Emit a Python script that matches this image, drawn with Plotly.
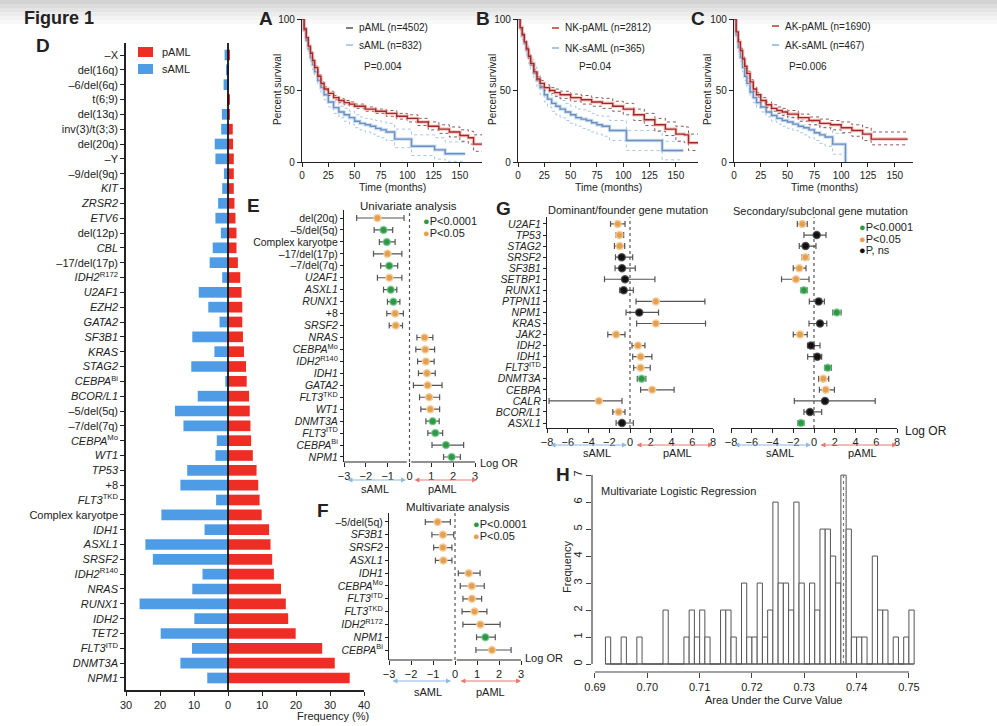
import plotly.graph_objects as go

W, H = 997, 726
FONT = "Liberation Sans, Arial, sans-serif"
INK = "#222222"
RED = "#EE2D24"
BLUE = "#4E9BE6"
C_G = "#2C9A45"
C_O = "#E3A052"
C_K = "#111111"
SIGC = {"g": C_G, "o": C_O, "k": C_K}
SIGL = {"g": "rgba(120,200,140,0.7)", "o": "rgba(245,205,150,0.9)", "k": "rgba(60,60,60,0.8)"}

# ---------------- Panel D data ----------------
d_labels = ["–X", "del(16q)", "–6/del(6q)", "t(6;9)", "del(13q)", "inv(3)/t(3;3)", "del(20q)", "–Y",
            "–9/del(9q)", "<i>KIT</i>", "<i>ZRSR2</i>", "<i>ETV6</i>", "del(12p)", "<i>CBL</i>",
            "–17/del(17p)", "<i>IDH2</i><sup>R172</sup>", "<i>U2AF1</i>", "<i>EZH2</i>", "<i>GATA2</i>",
            "<i>SF3B1</i>", "<i>KRAS</i>", "<i>STAG2</i>", "<i>CEBPA</i><sup>Bi</sup>", "<i>BCOR/L1</i>",
            "–5/del(5q)", "–7/del(7q)", "<i>CEBPA</i><sup>Mo</sup>", "<i>WT1</i>", "<i>TP53</i>", "+8",
            "<i>FLT3</i><sup>TKD</sup>", "Complex karyotpe", "<i>IDH1</i>", "<i>ASXL1</i>", "<i>SRSF2</i>",
            "<i>IDH2</i><sup>R140</sup>", "<i>NRAS</i>", "<i>RUNX1</i>", "<i>IDH2</i>", "<i>TET2</i>",
            "<i>FLT3</i><sup>ITD</sup>", "<i>DNMT3A</i>", "<i>NPM1</i>"]
d_pAML = [0.3, 0.2, 0.2, 0.5, 0.5, 1.4, 1.5, 1.7, 1.7, 1.7, 1.9, 2.2, 2.5, 2.5, 2.9, 3.6, 4.0, 4.2, 4.2,
          4.4, 4.7, 5.3, 5.5, 6.2, 6.4, 6.6, 6.8, 7.3, 8.4, 8.9, 9.3, 9.9, 12.1, 12.5, 13.0, 13.5, 15.6,
          17.0, 17.7, 19.9, 27.7, 31.4, 35.8]
d_sAML = [1.0, 0.3, 1.3, 0.1, 1.8, 2.0, 3.9, 3.7, 1.2, 1.7, 2.9, 3.7, 2.1, 4.5, 5.4, 1.7, 8.6, 5.8, 2.5,
          10.5, 4.0, 10.8, 0.8, 8.9, 15.6, 13.1, 3.3, 3.7, 12.0, 14.0, 3.5, 19.6, 6.9, 24.3, 22.1, 7.5,
          10.5, 26.0, 9.9, 19.8, 10.6, 14.0, 6.1]
d_xticks = [-30, -20, -10, 0, 10, 20, 30, 40]
d_xticktext = ["30", "20", "10", "0", "10", "20", "30", "40"]

# ---------------- Kaplan-Meier data ----------------
km_ticks = [0, 25, 50, 75, 100, 125, 150]
# Panel A
a_p_t = [0, 2, 4, 6, 8, 10, 12, 15, 18, 21, 25, 30, 35, 40, 45, 50, 60, 70, 80, 90, 100, 110, 120, 130, 140, 150, 158, 163, 171]
a_p_s = [100, 93, 87, 81, 76, 71, 66, 60, 55, 51, 48, 45, 43, 41.5, 40.5, 39, 37, 35.5, 34, 32, 30.5, 28, 25, 23, 21, 18.5, 17, 12.5, 12.5]
a_p_lo = [100, 92, 86, 80, 75, 70, 65, 59, 54, 50, 46.5, 43.5, 41.5, 40, 39, 37.5, 35.5, 34, 32, 30, 28, 25.5, 22.5, 20, 17.5, 14.5, 12.5, 7.5, 7.5]
a_p_hi = [100, 94, 88, 82, 77, 72, 67, 61, 56, 52.5, 49.5, 46.5, 44.5, 43, 42, 40.5, 38.5, 37, 36, 34, 33, 30.5, 28, 26, 24.5, 22.5, 21.5, 19, 19]
a_s_t = [0, 2, 4, 6, 8, 10, 12, 15, 18, 21, 25, 30, 35, 40, 45, 50, 55, 60, 65, 70, 75, 80, 88, 104, 126, 136, 155]
a_s_s = [100, 92, 85, 79, 73, 68, 63, 57, 52, 47, 42, 38, 35, 33, 31, 28.5, 27, 26, 25, 23.5, 22.5, 21, 16, 11, 8.5, 5.8, 5.8]
a_s_lo = [100, 90, 82, 76, 70, 64.5, 59.5, 53.5, 48.5, 43.5, 38.5, 34, 31, 28.5, 26.5, 24, 22.5, 21, 19.5, 18, 17, 15, 10, 4.5, 2, 0.5, 0.5]
a_s_hi = [100, 94, 88, 82, 76, 71.5, 66.5, 60.5, 55.5, 51, 46, 42, 39, 37.5, 35.5, 33, 31.5, 30.5, 30, 29, 28, 27, 23, 19, 17, 14, 14]
# Panel B
b_p_t = [0, 2, 4, 6, 8, 10, 12, 15, 18, 21, 25, 30, 35, 40, 50, 60, 70, 80, 90, 100, 110, 120, 130, 140, 150, 158, 162, 171]
b_p_s = [100, 94, 89, 84, 79, 74, 69, 63, 58, 55, 52, 50, 48.5, 47, 45, 43.5, 42, 41, 39, 37, 33, 29.5, 26, 23, 19.5, 19, 13.5, 13.5]
b_p_lo = [100, 93, 88, 83, 78, 72.5, 67.5, 61.5, 56.5, 53, 50, 48, 46, 44.5, 42.5, 40.5, 39, 37.5, 35.5, 33, 29, 25.5, 21.5, 18.5, 14.5, 13.5, 8, 8]
b_p_hi = [100, 95, 90, 85, 80, 75.5, 70.5, 64.5, 59.5, 57, 54, 52, 51, 49.5, 47.5, 46.5, 45, 44.5, 42.5, 41, 37, 34, 30.5, 28, 25, 24.5, 19.5, 19.5]
b_s_t = [0, 2, 4, 6, 8, 10, 12, 15, 18, 21, 25, 28, 32, 36, 40, 45, 50, 55, 60, 65, 70, 75, 80, 87, 103, 137, 157]
b_s_s = [100, 94, 88, 83, 78, 73, 68, 62, 57, 52, 47, 44, 41, 39, 37, 35, 33, 31, 30, 29, 27.5, 26, 25, 22, 15, 8, 8]
b_s_lo = [100, 92, 85.5, 80, 74.5, 69, 64, 57.5, 52, 47, 42, 38.5, 35.5, 33, 31, 29, 27, 25, 23.5, 22.5, 21, 19.5, 18, 15, 8, 1.5, 1.5]
b_s_hi = [100, 96, 90.5, 86, 81.5, 77, 72, 66.5, 62, 57, 52, 49.5, 46.5, 45, 43, 41, 39, 37, 36.5, 35.5, 34, 32.5, 32, 29, 22, 14.5, 14.5]
# Panel C
c_p_t = [0, 2, 4, 6, 8, 10, 12, 15, 18, 21, 25, 30, 35, 40, 45, 50, 60, 70, 80, 90, 100, 110, 120, 128, 162]
c_p_s = [100, 91, 84, 78, 72, 67, 62, 56, 51, 47, 43, 40, 37.5, 36, 35, 33.5, 31, 29, 27, 26, 24, 22, 19.5, 16, 16]
c_p_lo = [100, 90, 82.5, 76.5, 70.5, 65.5, 60.5, 54.5, 49.5, 45.5, 41.5, 38, 35.5, 34, 32.5, 31, 28.5, 26, 24, 22.5, 20.5, 18, 15, 12, 12]
c_p_hi = [100, 92, 85.5, 79.5, 73.5, 68.5, 63.5, 57.5, 52.5, 48.5, 45, 42, 40, 38.5, 37.5, 36, 33.5, 31.5, 30, 29, 28, 26, 24, 21, 21]
c_s_t = [0, 2, 4, 6, 8, 10, 12, 15, 18, 21, 25, 30, 35, 40, 45, 50, 55, 60, 65, 70, 75, 80, 85, 92, 104]
c_s_s = [100, 89, 80, 73, 66, 60, 55, 49, 45, 41.5, 38.5, 35, 32.5, 30.5, 29, 28, 26.5, 25, 24, 22.5, 20.5, 19, 17.5, 12.5, 0]
c_s_lo = [100, 87, 77, 70, 63, 57, 51.5, 45.5, 41.5, 38, 35, 31.5, 28.5, 26.5, 25, 23.5, 22, 20.5, 19, 17, 15, 13, 11, 5.5, 5.5]
c_s_hi = [100, 91, 83, 76, 69, 63, 58.5, 52.5, 48.5, 45, 42, 38.5, 36.5, 34.5, 33, 32, 31, 29.5, 29, 28, 26, 25, 24, 20, 20]

# ---------------- Panel E data ----------------
e_labels = ["del(20q)", "–5/del(5q)", "Complex karyotpe", "–17/del(17p)", "–7/del(7q)", "<i>U2AF1</i>",
            "<i>ASXL1</i>", "<i>RUNX1</i>", "+8", "<i>SRSF2</i>", "<i>NRAS</i>", "<i>CEBPA</i><sup>Mo</sup>",
            "<i>IDH2</i><sup>R140</sup>", "<i>IDH1</i>", "<i>GATA2</i>", "<i>FLT3</i><sup>TKD</sup>", "<i>WT1</i>",
            "<i>DNMT3A</i>", "<i>FLT3</i><sup>ITD</sup>", "<i>CEBPA</i><sup>Bi</sup>", "<i>NPM1</i>"]
e_or = [-1.47, -1.19, -1.04, -1.01, -0.93, -0.92, -0.86, -0.74, -0.66, -0.63, 0.69, 0.72, 0.75, 0.80, 0.83, 0.90, 0.95, 1.06, 1.18, 1.67, 1.93]
e_lo = [-2.42, -1.62, -1.38, -1.65, -1.32, -1.47, -1.19, -1.01, -1.04, -0.93, 0.34, 0.29, 0.37, 0.41, 0.18, 0.46, 0.52, 0.75, 0.84, 1.03, 1.56]
e_hi = [-0.25, -0.77, -0.66, -0.35, -0.54, -0.35, -0.58, -0.44, -0.28, -0.32, 1.07, 1.15, 1.13, 1.18, 1.49, 1.38, 1.38, 1.36, 1.52, 2.48, 2.33]
e_sig = ["o", "g", "g", "o", "g", "o", "g", "g", "o", "o", "o", "o", "o", "o", "o", "o", "o", "g", "g", "g", "g"]

# ---------------- Panel F data ----------------
f_labels = ["–5/del(5q)", "<i>SF3B1</i>", "<i>SRSF2</i>", "<i>ASXL1</i>", "<i>IDH1</i>", "<i>CEBPA</i><sup>Mo</sup>",
            "<i>FLT3</i><sup>ITD</sup>", "<i>FLT3</i><sup>TKD</sup>", "<i>IDH2</i><sup>R172</sup>", "<i>NPM1</i>",
            "<i>CEBPA</i><sup>Bi</sup>"]
f_or = [-0.79, -0.55, -0.55, -0.53, 0.62, 0.76, 0.77, 0.89, 1.15, 1.38, 1.68]
f_lo = [-1.35, -1.05, -0.97, -0.89, 0.15, 0.24, 0.36, 0.32, 0.36, 0.98, 0.95]
f_hi = [-0.21, -0.06, -0.14, -0.14, 1.14, 1.33, 1.21, 1.45, 2.05, 1.83, 2.55]
f_sig = ["o", "o", "o", "o", "o", "o", "o", "o", "o", "g", "o"]
or_ticks3 = [-3, -2, -1, 0, 1, 2, 3]

# ---------------- Panel G data ----------------
g_labels = ["<i>U2AF1</i>", "<i>TP53</i>", "<i>STAG2</i>", "<i>SRSF2</i>", "<i>SF3B1</i>", "<i>SETBP1</i>",
            "<i>RUNX1</i>", "<i>PTPN11</i>", "<i>NPM1</i>", "<i>KRAS</i>", "<i>JAK2</i>", "<i>IDH2</i>",
            "<i>IDH1</i>", "<i>FLT3</i><sup>ITD</sup>", "<i>DNMT3A</i>", "<i>CEBPA</i>", "<i>CALR</i>",
            "<i>BCOR/L1</i>", "<i>ASXL1</i>"]
gd_or = [-1.18, -1.02, -0.99, -0.80, -0.77, -0.48, -0.61, 2.49, 0.89, 2.49, -1.34, 0.77, 1.02, 1.02, 1.12, 2.14, -3.0, -1.09, -0.77]
gd_lo = [-1.88, -1.34, -1.50, -1.40, -1.44, -2.46, -0.99, 0.58, -0.38, 0.64, -2.14, 0.19, 0.26, 0.35, 0.70, 1.02, -7.8, -1.66, -1.34]
gd_hi = [-0.48, -0.61, -0.51, 0.26, 0.51, 2.40, 0.32, 7.22, 2.75, 7.28, -0.48, 1.44, 2.11, 1.95, 1.53, 4.25, -0.77, -0.48, 0.32]
gd_sig = ["o", "o", "o", "k", "k", "k", "k", "o", "k", "o", "o", "o", "o", "o", "g", "o", "o", "o", "k"]
gs_or = [-1.13, 0.26, -0.81, -0.84, -1.42, -1.74, -0.97, 0.45, 2.19, 0.58, -1.35, -0.29, 0.32, 1.32, 0.90, 1.13, 1.06, -0.39, -1.26]
gs_lo = [-1.61, -0.97, -1.42, -1.16, -2.00, -3.13, -1.26, -0.45, 1.81, -0.48, -2.00, -0.61, -0.61, 1.03, 0.45, 0.52, -1.90, -0.97, -1.55]
gs_hi = [-0.65, 1.16, 0.19, -0.52, -0.77, -0.48, -0.65, 1.00, 2.61, 1.23, -0.65, 0.58, 0.74, 1.68, 1.42, 1.97, 5.90, 0.74, -0.97]
gs_sig = ["o", "k", "k", "o", "o", "o", "g", "k", "g", "k", "o", "k", "k", "g", "o", "o", "k", "k", "g"]
or_ticks8 = [-8, -6, -4, -2, 0, 2, 4, 6, 8]

# ---------------- Panel H data ----------------
h_bin_left = [0.692, 0.693, 0.694, 0.695, 0.696, 0.697, 0.698, 0.699, 0.700, 0.701, 0.702, 0.703, 0.704,
              0.705, 0.706, 0.707, 0.708, 0.709, 0.710, 0.711, 0.712, 0.713, 0.714, 0.715, 0.716, 0.717,
              0.718, 0.719, 0.720, 0.721, 0.722, 0.723, 0.724, 0.725, 0.726, 0.727, 0.728, 0.729, 0.730,
              0.731, 0.732, 0.733, 0.734, 0.735, 0.736, 0.737, 0.738, 0.739, 0.740, 0.741, 0.742, 0.743,
              0.744, 0.745, 0.746, 0.747, 0.748, 0.749, 0.750]
h_counts = [1, 0, 0, 1, 0, 0, 1, 0, 0, 0, 0, 2, 0,
            0, 0, 1, 2, 1, 2, 1, 0, 0, 2, 2, 1, 0,
            3, 1, 1, 3, 1, 2, 6, 3, 3, 2, 6, 3, 0,
            3, 2, 5, 5, 4, 3, 7, 5, 1, 1, 1, 0, 4,
            2, 2, 0, 1, 0, 1, 2]
h_binwidth = 0.001
h_observed = 0.7375
h_xticks = [0.69, 0.70, 0.71, 0.72, 0.73, 0.74, 0.75]
h_yticks = [0, 1, 2, 3, 4, 5, 6, 7]


# ---------------- helpers ----------------
def X(p):
    return p / W


def Y(p):
    return 1 - p / H


def xdom(a, b):
    return [a / W, b / W]


def ydom(top, bottom):
    return [1 - bottom / H, 1 - top / H]


def ax_style(**kw):
    base = dict(showline=True, linecolor=INK, linewidth=1.2, ticks="outside", ticklen=4, tickwidth=1,
                tickcolor=INK, showgrid=False, zeroline=False, automargin=False,
                tickfont=dict(size=10, family=FONT, color=INK))
    base.update(kw)
    return base


annotations = []
shapes = []


def text(t, x, y, size=11, xa="center", ya="middle", angle=0, color=INK):
    annotations.append(dict(text=t, x=X(x), y=Y(y), xref="paper", yref="paper", showarrow=False,
                            font=dict(size=size, family=FONT, color=color), xanchor=xa, yanchor=ya,
                            textangle=angle))


def arrow(x0, x1, y, color):
    annotations.append(dict(text=" ", x=X(x1), y=Y(y), xref="paper", yref="paper", ax=-(x1 - x0), ay=0,
                            axref="pixel", ayref="pixel", showarrow=True, arrowhead=2, arrowside="end+start",
                            arrowsize=0.9, arrowwidth=1.1, arrowcolor=color, font=dict(size=6)))


def pline(x0, y0, x1, y1, color, width=1.0, dash="solid"):
    shapes.append(dict(type="line", xref="paper", yref="paper", x0=X(x0), y0=Y(y0), x1=X(x1), y1=Y(y1),
                       line=dict(color=color, width=width, dash=dash)))


fig = go.Figure()

# header band
for i, col in enumerate(["#d4d4d4", "#dcdcdc", "#e4e4e4", "#ececec", "#f3f3f3", "#f9f9f9"]):
    shapes.append(dict(type="rect", xref="paper", yref="paper", x0=0, x1=1, y0=Y(4 * i + 4), y1=Y(4 * i),
                       line=dict(width=0), fillcolor=col, layer="below"))

# ---------------- D ----------------
d_idx = list(range(len(d_labels)))
fig.add_trace(go.Bar(y=d_idx, x=d_pAML, orientation="h", width=0.72, marker=dict(color=RED, line=dict(width=0)),
                     xaxis="x", yaxis="y", showlegend=False, hoverinfo="skip"))
fig.add_trace(go.Bar(y=d_idx, x=[-v for v in d_sAML], orientation="h", width=0.72,
                     marker=dict(color=BLUE, line=dict(width=0)), xaxis="x", yaxis="y", showlegend=False,
                     hoverinfo="skip"))
shapes.append(dict(type="line", xref="x", yref="y domain", x0=0, x1=0, y0=0, y1=1,
                   line=dict(color="#111", width=1.8), layer="above"))
shapes.append(dict(type="rect", xref="paper", yref="paper", x0=X(138), x1=X(153), y0=Y(57), y1=Y(47),
                   fillcolor=RED, line=dict(width=0)))
shapes.append(dict(type="rect", xref="paper", yref="paper", x0=X(138), x1=X(153), y0=Y(74), y1=Y(64),
                   fillcolor=BLUE, line=dict(width=0)))
text("pAML", 160, 52, 11, xa="left")
text("sAML", 160, 69, 11, xa="left")
text("Frequency (%)", 333, 716, 11)

# ---------------- KM ----------------
km_sets = [
    ("2", a_p_t, a_p_s, a_p_lo, a_p_hi, a_s_t, a_s_s, a_s_lo, a_s_hi),
    ("3", b_p_t, b_p_s, b_p_lo, b_p_hi, b_s_t, b_s_s, b_s_lo, b_s_hi),
    ("4", c_p_t, c_p_s, c_p_lo, c_p_hi, c_s_t, c_s_s, c_s_lo, c_s_hi),
]
for k, pt, ps, plo, phi, st, ss, slo, shi in km_sets:
    xa, ya = "x" + k, "y" + k
    for tt, ss_, lo, hi, halo, core, ci in [
        (st, ss, slo, shi, "rgba(180,208,238,0.7)", "#6E8EBD", "#A6C6E6"),
        (pt, ps, plo, phi, "rgba(245,165,155,0.6)", "#A3282A", "#8A5A5A"),
    ]:
        for band in (lo, hi):
            fig.add_trace(go.Scatter(x=tt, y=band, mode="lines", line=dict(color=ci, width=1, dash="dot", shape="hv"),
                                     xaxis=xa, yaxis=ya, showlegend=False, hoverinfo="skip"))
        fig.add_trace(go.Scatter(x=tt, y=ss_, mode="lines", line=dict(color=halo, width=3.5, shape="hv"),
                                 xaxis=xa, yaxis=ya, showlegend=False, hoverinfo="skip"))
        fig.add_trace(go.Scatter(x=tt, y=ss_, mode="lines", line=dict(color=core, width=1.4, shape="hv"),
                                 xaxis=xa, yaxis=ya, showlegend=False, hoverinfo="skip"))

# KM legends/text
pline(346, 28, 353, 28, "#555", 1.5)
pline(346, 45, 353, 45, "#9DBFE3", 1.5)
text("pAML (n=4502)", 357, 28, 10, xa="left")
text("sAML (n=832)", 357, 45, 10, xa="left")
text("P=0.004", 362, 67, 10, xa="left")
pline(552, 28, 559, 28, "#C0392B", 1.5)
pline(552, 48, 559, 48, "#8FB0D5", 1.5)
text("NK-pAML (n=2812)", 563, 28, 10, xa="left")
text("NK-sAML (n=365)", 563, 48, 10, xa="left")
text("P=0.04", 577, 67, 10, xa="left")
pline(772, 26, 779, 26, "#C0392B", 1.5)
pline(772, 45, 779, 45, "#8FB0D5", 1.5)
text("AK-pAML (n=1690)", 783, 26, 10, xa="left")
text("AK-sAML (n=467)", 783, 45, 10, xa="left")
text("P=0.006", 787, 67, 10, xa="left")
for xc, yx in [(277, 392), (492, 608), (707, 824)]:
    text("Percent survival", xc, 90, 10, angle=-90)
    text("Time (months)", yx, 187, 10.5)


# ---------------- forest plots ----------------
def forest(orv, lo, hi, sig, xa, ya):
    fig.add_trace(go.Scatter(
        x=orv, y=list(range(len(orv))), mode="markers",
        marker=dict(size=7, color=[SIGC[s] for s in sig],
                    line=dict(width=1.5, color=[SIGL[s] for s in sig])),
        error_x=dict(type="data", symmetric=False,
                     array=[h - o for h, o in zip(hi, orv)],
                     arrayminus=[o - l for o, l in zip(orv, lo)],
                     color="#555", thickness=1.2, width=3),
        xaxis=xa, yaxis=ya, showlegend=False, hoverinfo="skip"))


forest(e_or, e_lo, e_hi, e_sig, "x5", "y5")
forest(f_or, f_lo, f_hi, f_sig, "x6", "y6")
forest(gd_or, gd_lo, gd_hi, gd_sig, "x7", "y7")
forest(gs_or, gs_lo, gs_hi, gs_sig, "x8", "y8")

for xr, yr in [("x5", "y5"), ("x6", "y6"), ("x7", "y7"), ("x8", "y8")]:
    shapes.append(dict(type="line", xref=xr, yref=yr + " domain", x0=0, x1=0, y0=0, y1=1,
                       line=dict(color="#555", width=1.2, dash="dot"), layer="below"))
for xr, yr in [("x5", "y5"), ("x6", "y6")]:
    for a, b in [(-3, -0.12), (0.08, 3)]:
        shapes.append(dict(type="line", xref=xr, yref=yr + " domain", x0=a, x1=b, y0=0, y1=0,
                           line=dict(color=INK, width=1.2)))

# E texts
text("Univariate analysis", 408, 206, 11.5)
text("<span style='color:%s'>●</span>P&lt;0.0001" % C_G, 421, 221, 11, xa="left")
text("<span style='color:%s'>●</span>P&lt;0.05" % C_O, 421, 233, 11, xa="left")
text("Log OR", 478, 463, 11, xa="left")
arrow(345, 406, 480, "#8DB8E0")
arrow(412, 477, 480, "#E27A72")
text("sAML", 375, 489, 11)
text("pAML", 442, 489, 11)

# F texts
text("Multivariate analysis", 458, 507, 11.5)
text("<span style='color:%s'>●</span>P&lt;0.0001" % C_G, 471, 524, 11, xa="left")
text("<span style='color:%s'>●</span>P&lt;0.05" % C_O, 471, 536, 11, xa="left")
text("Log OR", 523, 658, 11, xa="left")
arrow(390, 451, 681, "#8DB8E0")
arrow(458, 521, 681, "#E27A72")
text("sAML", 428, 692, 11)
text("pAML", 490, 692, 11)

# G texts
text("Dominant/founder gene mutation", 628, 210, 11)
text("Secondary/subclonal gene mutation", 820, 211, 11)
text("<span style='color:%s'>●</span>P&lt;0.0001" % C_G, 857, 227, 11, xa="left")
text("<span style='color:%s'>●</span>P&lt;0.05" % C_O, 857, 238.5, 11, xa="left")
text("<span style='color:%s'>●</span>P, ns" % C_K, 857, 250, 11, xa="left")
text("Log OR", 903, 431, 12, xa="left")
arrow(548, 627, 445, "#8DB8E0")
arrow(634, 713, 445, "#E27A72")
arrow(732, 811, 445, "#8DB8E0")
arrow(818, 897, 445, "#E27A72")
text("sAML", 597, 453, 11)
text("pAML", 677, 453, 11)
text("sAML", 780, 453, 11)
text("pAML", 862, 453, 11)

# ---------------- H ----------------
fig.add_trace(go.Bar(x=[b + h_binwidth / 2 for b in h_bin_left], y=h_counts, width=h_binwidth,
                     marker=dict(color="white", line=dict(color="#555", width=1)),
                     xaxis="x9", yaxis="y9", showlegend=False, hoverinfo="skip"))
shapes.append(dict(type="line", xref="x9", yref="y9", x0=h_bin_left[0], x1=h_bin_left[-1] + h_binwidth,
                   y0=0, y1=0, line=dict(color="#555", width=1)))
shapes.append(dict(type="line", xref="x9", yref="y9", x0=h_observed, x1=h_observed, y0=0, y1=max(h_counts),
                   line=dict(color="#777", width=1.2, dash="dot")))
shapes.append(dict(type="line", xref="x9", yref="y9 domain", x0=h_xticks[0], x1=h_xticks[-1], y0=0, y1=0,
                   line=dict(color="#444", width=1.2)))
shapes.append(dict(type="line", xref="x9 domain", yref="y9", x0=0, x1=0, y0=h_yticks[0], y1=h_yticks[-1],
                   line=dict(color="#444", width=1.2)))
text("Multivariate Logistic Regression", 599, 491, 11, xa="left")
text("Frequency", 567, 567, 11, angle=-90)
text("Area Under the Curve Value", 773, 700, 11)

# ---------------- panel letters ----------------
text("<b>Figure 1</b>", 22, 18, 18, xa="left")
for letter, x, y in [("A", 266, 18), ("B", 483, 18), ("C", 698, 18), ("D", 43, 46), ("E", 253, 206),
                     ("F", 323, 510), ("G", 503, 208), ("H", 563, 474)]:
    text("<b>%s</b>" % letter, x, y, 19)

# ---------------- layout ----------------
layout = dict(
    width=W, height=H, margin=dict(l=0, r=0, t=0, b=0), paper_bgcolor="white", plot_bgcolor="rgba(0,0,0,0)",
    barmode="overlay", font=dict(family=FONT, color=INK), showlegend=False,
    xaxis=ax_style(domain=xdom(126, 364), range=[-30, 40], tickvals=d_xticks, ticktext=d_xticktext,
                   anchor="y", tickfont=dict(size=11, family=FONT, color=INK), linewidth=1.5),
    yaxis=ax_style(domain=ydom(43, 690), range=[len(d_labels) - 1 + 0.81, -0.81], tickvals=d_idx,
                   ticktext=d_labels, anchor="x", tickfont=dict(size=11, family=FONT, color=INK), linewidth=1.5),
)
for k, (a, b, rng) in zip(["2", "3", "4"], [(302, 482, 171), (518, 698, 171), (734, 913, 167)]):
    layout["xaxis" + k] = ax_style(domain=xdom(a, b), range=[0, rng], tickvals=km_ticks, anchor="y" + k)
    layout["yaxis" + k] = ax_style(domain=ydom(19, 162), range=[0, 100], tickvals=[0, 50, 100], anchor="x" + k)

layout["xaxis5"] = ax_style(domain=xdom(344, 475), range=[-3, 3], tickvals=or_ticks3, anchor="y5",
                            showline=False, tickfont=dict(size=11, family=FONT, color=INK))
layout["yaxis5"] = ax_style(domain=ydom(210, 462), range=[len(e_labels) - 1 + 0.42, -0.67],
                            tickvals=list(range(len(e_labels))), ticktext=e_labels, anchor="x5", ticklen=3,
                            tickfont=dict(size=10.5, family=FONT, color=INK))
layout["xaxis6"] = ax_style(domain=xdom(389, 521), range=[-3, 3], tickvals=or_ticks3, anchor="y6",
                            showline=False, tickfont=dict(size=11, family=FONT, color=INK))
layout["yaxis6"] = ax_style(domain=ydom(513, 660), range=[len(f_labels) - 1 + 0.78, -0.7],
                            tickvals=list(range(len(f_labels))), ticktext=f_labels, anchor="x6", ticklen=3,
                            tickfont=dict(size=10.5, family=FONT, color=INK))
layout["xaxis7"] = ax_style(domain=xdom(547, 713), range=[-8, 8], tickvals=or_ticks8, anchor="y7",
                            tickfont=dict(size=11, family=FONT, color=INK))
layout["yaxis7"] = ax_style(domain=ydom(217, 428), range=[len(g_labels) - 1 + 0.45, -0.63],
                            tickvals=list(range(len(g_labels))), ticktext=g_labels, anchor="x7", ticklen=3,
                            tickfont=dict(size=10.5, family=FONT, color=INK))
layout["xaxis8"] = ax_style(domain=xdom(731, 897), range=[-8, 8], tickvals=or_ticks8, anchor="y8",
                            tickfont=dict(size=11, family=FONT, color=INK))
layout["yaxis8"] = ax_style(domain=ydom(217, 428), range=[len(g_labels) - 1 + 0.45, -0.63], anchor="x8",
                            showline=False, showticklabels=False, ticks="")
layout["xaxis9"] = ax_style(domain=xdom(592, 922), range=[0.68943, 0.7525], tickvals=h_xticks, tickformat=".2f",
                            anchor="y9", showline=False, ticklen=5, tickcolor="#444",
                            tickfont=dict(size=11, family=FONT, color=INK))
layout["yaxis9"] = ax_style(domain=ydom(467, 672), range=[-0.296, 7.3], tickvals=h_yticks, anchor="x9",
                            showline=False, ticklen=5, tickangle=-90, tickcolor="#444",
                            tickfont=dict(size=11, family=FONT, color=INK))
layout["annotations"] = annotations
layout["shapes"] = shapes
fig.update_layout(**layout)
fig.write_html("out.html")
